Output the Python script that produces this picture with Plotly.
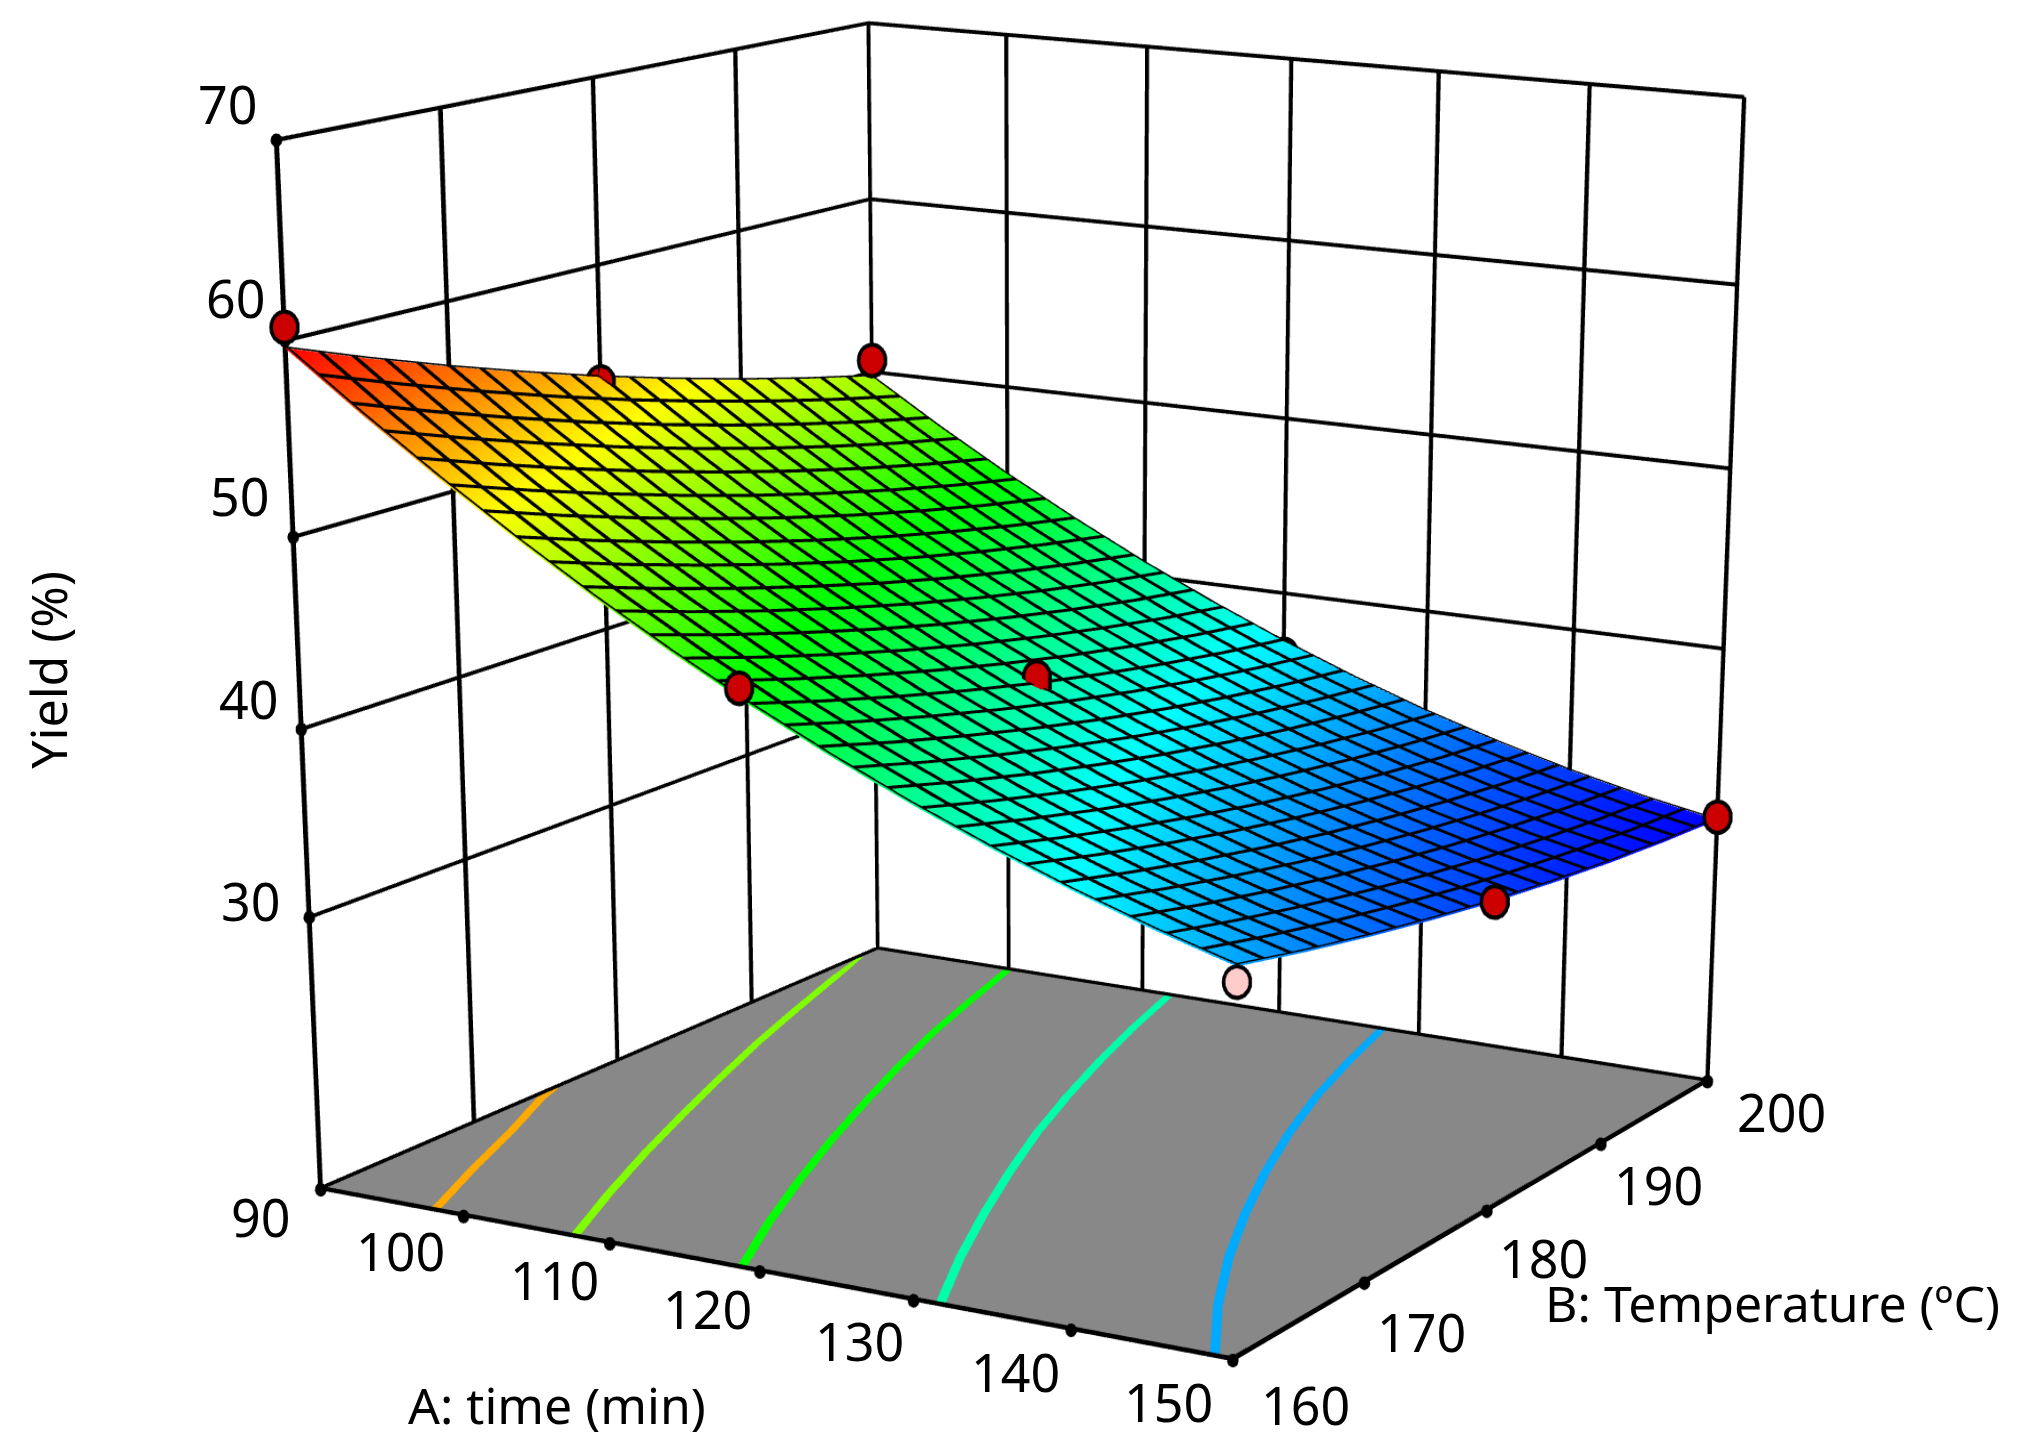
import numpy as np
import plotly.graph_objects as go

W, H = 2024, 1451
# The scene is drawn on a larger canvas, placed so the page shows the part that carries the chart:
# that gives the narrow field of view of the original, which a page-sized scene cannot reach.
FW, FH = 5100, 6000
S = 2024 / 1568
EYE = (3.02467, -5.25710, 1.08747)
CTR = (0.64672, -0.76145, -1.19664)
UP = (-0.15720, 0.26859, 0.95034)
ASP = (1.0, 1.03540, 0.79893)
OX = (FW - W) / 2 - 225.4
OY = (FH - H) / 2 - 1707.8

A = [90, 95, 100, 105, 110, 115, 120, 125, 130, 135, 140, 145, 150]
B = [160, 165, 170, 175, 180, 185, 190, 195, 200]
Z = [
    [59.62, 56.72, 53.98, 51.40, 48.97, 46.70, 44.58, 42.62, 40.81, 39.16, 37.66, 36.32, 35.14],
    [58.06, 55.21, 52.52, 49.99, 47.62, 45.40, 43.33, 41.42, 39.67, 38.07, 36.62, 35.33, 34.21],
    [56.59, 53.80, 51.16, 48.69, 46.36, 44.20, 42.18, 40.33, 38.62, 37.08, 35.68, 34.45, 33.37],
    [55.22, 52.47, 49.89, 47.47, 45.20, 43.08, 41.12, 39.32, 37.67, 36.17, 34.83, 33.65, 32.63],
    [53.93, 51.24, 48.71, 46.34, 44.12, 42.06, 40.15, 38.40, 36.80, 35.36, 34.07, 32.94, 31.97],
    [52.75, 50.11, 47.63, 45.31, 43.15, 41.14, 39.28, 37.58, 36.04, 34.65, 33.41, 32.33, 31.42],
    [51.65, 49.07, 46.64, 44.38, 42.26, 40.31, 38.50, 36.86, 35.36, 34.03, 32.84, 31.82, 30.95],
    [50.65, 48.11, 45.74, 43.53, 41.47, 39.56, 37.81, 36.22, 34.78, 33.49, 32.36, 31.39, 30.58],
    [49.74, 47.26, 44.94, 42.78, 40.77, 38.92, 37.22, 35.68, 34.29, 33.06, 31.98, 31.06, 30.30],
]
A_TICKS = [90, 100, 110, 120, 130, 140, 150]
B_TICKS = [160, 170, 180, 190, 200]
Z_TICKS = [30, 40, 50, 60, 70]
FLOOR = 15.144
TOP = 70
FRONT_A = [90, 90, 119.3, 150, 150]
FRONT_B = [160, 200, 160, 180, 200]
FRONT_Z = [60.7, 50.7, 45.4, 32.0, 30.5]
MID_A = [90, 120, 120, 120]
MID_B = [180, 180, 180, 200]
MID_Z = [53.7, 40.6, 40.2, 36.5]
LOW_A = [150]
LOW_B = [160]
LOW_Z = [34.4]
CONTOURS = [
    ('#ffaa00', [98.0, 95.3, 92.8, 90.6, 90.0], [160, 165, 170, 174, 175.5]),
    ('#80ff00', [107.6, 104.8, 102.2, 99.8, 97.5, 95.3, 93.3, 91.4, 90.0], [160, 165, 170, 175, 180, 185, 190, 195, 198.5]),
    ('#00ff00', [118.8, 115.7, 112.9, 110.3, 107.9, 105.6, 103.5, 101.7, 100.0], [160, 165, 170, 175, 180, 185, 190, 195, 200]),
    ('#00ffaa', [131.7, 128.4, 125.4, 122.6, 120.0, 117.7, 115.6, 113.7, 112.0], [160, 165, 170, 175, 180, 185, 190, 195, 200]),
    ('#00aaff', [148.9, 144.9, 141.4, 138.3, 135.5, 133.0, 130.8, 129.0, 127.4], [160, 165, 170, 175, 180, 185, 190, 195, 200]),
]
A_LABEL_SHIFT = [(-60, -27), (-63, -34), (-55, -36), (-52, -37), (-54, -40), (-56, -41), (-64, -41)]
B_LABEL_SHIFT = [(73, -44), (57, -49), (57, -46), (58, -40), (74, -30)]
Z_LABEL_SHIFT = [(-58, 17), (-52, 31), (-53, 42), (-49, 43), (-48, 37)]
FONT = 'Noto Sans'
FS = 52
FST = 50

Zarr = np.array(Z)
Aarr = np.array(A, float)
Barr = np.array(B, float)


def zsurf(a, b):
    a = np.clip(a, 90, 150)
    b = np.clip(b, 160, 200)
    i = min(int((a - 90) // 5), 11)
    j = min(int((b - 160) // 5), 7)
    u = (a - Aarr[i]) / 5
    v = (b - Barr[j]) / 5
    return (Zarr[j, i] * (1 - u) * (1 - v) + Zarr[j, i + 1] * u * (1 - v)
            + Zarr[j + 1, i] * (1 - u) * v + Zarr[j + 1, i + 1] * u * v)


class Rib:
    """Thick lines as thin meshes, since WebGL lines stay one pixel wide."""
    def __init__(s):
        s.v = []
        s.t = []

    def add(s, left, right):
        n = len(s.v)
        s.v += list(left) + list(right)
        m = len(left)
        for q in range(m - 1):
            s.t.append((n + q, n + q + 1, n + m + q))
            s.t.append((n + q + 1, n + m + q + 1, n + m + q))

    def trace(s, color):
        v = np.array(s.v, float)
        t = np.array(s.t)
        return go.Mesh3d(x=v[:, 0], y=v[:, 1], z=v[:, 2], i=t[:, 0], j=t[:, 1], k=t[:, 2], color=color,
                         flatshading=True, hoverinfo='skip',
                         lighting=dict(ambient=1, diffuse=0, specular=0, fresnel=0))


flat = dict(ambient=1, diffuse=0, specular=0, fresnel=0)
fig = go.Figure()
fig.add_trace(go.Surface(x=A, y=B, z=Z,
                         colorscale=[[0, '#0000ff'], [.25, '#00ffff'], [.5, '#00ff00'], [.75, '#ffff00'], [1, '#ff0000']],
                         cmin=30.3, cmax=59.62, showscale=False, hoverinfo='skip', lighting=flat))
fig.add_trace(go.Surface(x=[90, 150], y=[160, 200], z=[[FLOOR, FLOOR], [FLOOR, FLOOR]], surfacecolor=[[0, 0], [0, 0]],
                         cmin=0, cmax=1, colorscale=[[0, '#888888'], [1, '#888888']], showscale=False,
                         hoverinfo='skip', lighting=flat))
g = Rib()
dA, dB, dZ = .14, .15, .11
for b in B_TICKS:
    g.add([(90, b - dB, FLOOR), (90, b - dB, TOP)], [(90, b + dB, FLOOR), (90, b + dB, TOP)])
for a in A_TICKS[1:]:
    g.add([(a - dA, 200, FLOOR), (a - dA, 200, TOP)], [(a + dA, 200, FLOOR), (a + dA, 200, TOP)])
for z in Z_TICKS:
    g.add([(90, 160, z - dZ), (90, 200, z - dZ)], [(90, 160, z + dZ), (90, 200, z + dZ)])
    g.add([(90, 200, z - dZ), (150, 200, z - dZ)], [(90, 200, z + dZ), (150, 200, z + dZ)])
fz = FLOOR + .08
fo = .23
for b in (160, 200):
    g.add([(90, b - fo, fz), (150, b - fo, fz)], [(90, b + fo, fz), (150, b + fo, fz)])
for a in (90, 150):
    g.add([(a - fo, 160, fz), (a - fo, 200, fz)], [(a + fo, 160, fz), (a + fo, 200, fz)])
fig.add_trace(g.trace('black'))
m = Rib()
lift = .1
for b in np.linspace(160, 200, 21):
    l = [(a, max(b - .19, 160), zsurf(a, b - .19) + lift) for a in A]
    r = [(a, min(b + .19, 200), zsurf(a, b + .19) + lift) for a in A]
    m.add(l, r)
for a in np.linspace(90, 150, 29):
    l = [(max(a - .145, 90), b, zsurf(a - .145, b) + lift) for b in B]
    r = [(min(a + .145, 150), b, zsurf(a + .145, b) + lift) for b in B]
    m.add(l, r)
fig.add_trace(m.trace('black'))
for col, ca, cb in CONTOURS:
    c = Rib()
    c.add([(max(x - .3, 90), y, FLOOR + .05) for x, y in zip(ca, cb)],
          [(min(x + .3, 150), y, FLOOR + .05) for x, y in zip(ca, cb)])
    fig.add_trace(c.trace(col))
ED = (120 + 60 * EYE[0] / ASP[0], 180 + 40 * EYE[1] / ASP[1], 43.5 + 53 * EYE[2] / ASP[2])


def dots(xs, ys, zs, color, size, t):
    # moved along the line of sight: same place on screen, only nearer for the depth test
    xs, ys, zs = [np.array(v, float) for v in (xs, ys, zs)]
    fig.add_trace(go.Scatter3d(x=xs + t * (ED[0] - xs), y=ys + t * (ED[1] - ys), z=zs + t * (ED[2] - zs),
                               mode='markers', marker=dict(size=size, color=color), hoverinfo='skip'))


dots(A_TICKS + [150] * 4 + [90] * 5, [160] * 7 + B_TICKS[1:] + [160] * 5, [FLOOR] * 11 + Z_TICKS, 'black', 3.8, .001)
OUT, INN = 10, 7.6
dots(MID_A, MID_B, MID_Z, 'black', OUT, 0)
dots(MID_A, MID_B, MID_Z, '#cc0000', INN, .0008)
dots(FRONT_A, FRONT_B, FRONT_Z, 'black', OUT, .006)
dots(FRONT_A, FRONT_B, FRONT_Z, '#cc0000', INN, .0068)
dots(LOW_A, LOW_B, LOW_Z, 'black', OUT, .006)
dots(LOW_A, LOW_B, LOW_Z, '#ffcccc', INN, .0068)
ann = []


def lab(x, y, z, t, shift):
    ann.append(dict(x=x, y=y, z=z, text=str(t), showarrow=False, xshift=shift[0], yshift=shift[1],
                    font=dict(family=FONT, size=FS, color='black'), xanchor='center', yanchor='middle'))


for a, sh in zip(A_TICKS, A_LABEL_SHIFT):
    lab(a, 160, FLOOR, a, sh)
for b, sh in zip(B_TICKS, B_LABEL_SHIFT):
    lab(150, b, FLOOR, b, sh)
for z, sh in zip(Z_TICKS, Z_LABEL_SHIFT):
    lab(90, 160, z, z, sh)


def paper(px, py, t, ang=0):
    return dict(x=(px * S + OX) / FW, y=1 - (py * S + OY) / FH, xref='paper', yref='paper', text=t, showarrow=False,
                textangle=ang, font=dict(family=FONT, size=FST, color='black'), xanchor='center', yanchor='middle')


ax = dict(showbackground=False, showgrid=False, zeroline=False, showspikes=False, showticklabels=False, ticks='',
          title=dict(text=''), showline=False)
pad = (72 / 60, 52 / 40, 67 / 53)
fig.update_layout(
    width=FW, height=FH, margin=dict(l=0, r=0, t=0, b=0), paper_bgcolor='white', showlegend=False,
    annotations=[paper(431, 1088, 'A: time (min)'), paper(1373, 1009, 'B: Temperature (ºC)'),
                 paper(37, 518, 'Yield (%)', -90)],
    scene=dict(aspectmode='manual',
               aspectratio=dict(x=ASP[0] * pad[0], y=ASP[1] * pad[1], z=ASP[2] * pad[2]),
               camera=dict(eye=dict(x=EYE[0], y=EYE[1], z=EYE[2]), center=dict(x=CTR[0], y=CTR[1], z=CTR[2]),
                           up=dict(x=UP[0], y=UP[1], z=UP[2]), projection=dict(type='perspective')),
               xaxis=dict(ax, range=[84, 156]), yaxis=dict(ax, range=[154, 206]), zaxis=dict(ax, range=[10, 77]),
               annotations=ann))
post = ("var g=document.getElementById('{plot_id}');document.documentElement.style.overflow='hidden';"
        "document.body.style.overflow='hidden';document.body.style.margin='0';g.style.position='absolute';"
        "g.style.left='%dpx';g.style.top='%dpx';" % (-OX, -OY))
fig.write_html("out.html", post_script=post, config=dict(displayModeBar=False))
